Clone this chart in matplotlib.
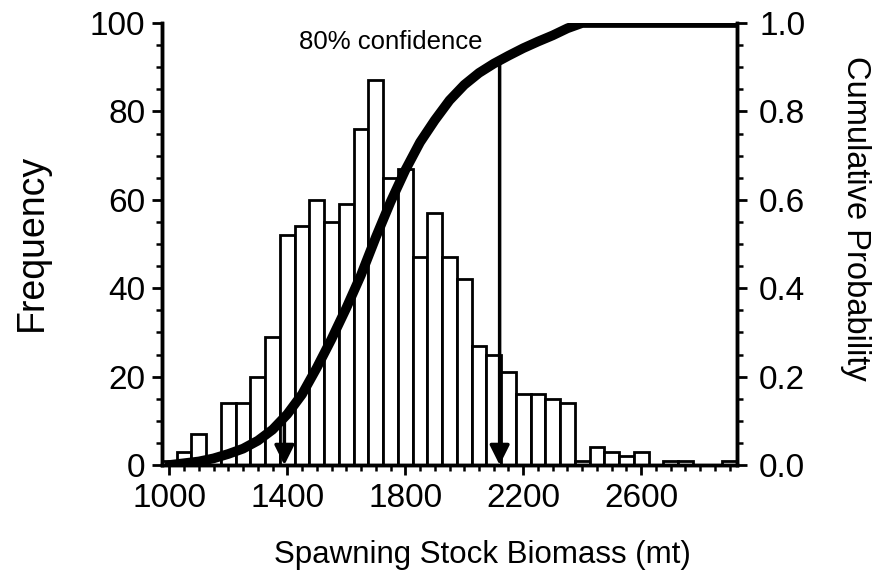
import numpy as np
import matplotlib
matplotlib.use("Agg")
import matplotlib.pyplot as plt
from matplotlib.ticker import MultipleLocator, FixedLocator, FormatStrFormatter

plt.rcParams['font.family'] = ['Liberation Sans', 'DejaVu Sans']

# histogram: bin centres (mt) and frequencies
bin_centres = [1000, 1050, 1100, 1150, 1200, 1250, 1300, 1350, 1400, 1450,
               1500, 1550, 1600, 1650, 1700, 1750, 1800, 1850, 1900, 1950,
               2000, 2050, 2100, 2150, 2200, 2250, 2300, 2350, 2400, 2450,
               2500, 2550, 2600, 2650, 2700, 2750, 2800, 2850, 2900]
counts = [1, 3, 7, 2, 14, 14, 20, 29, 52, 54,
          60, 55, 59, 76, 87, 65, 67, 47, 57, 47,
          42, 27, 25, 21, 16, 16, 15, 14, 1, 4,
          3, 2, 3, 0, 1, 1, 0, 0, 1]

# cumulative probability curve
cum_x = [1000, 1050, 1100, 1150, 1200, 1250, 1300, 1350, 1400, 1450,
         1500, 1550, 1600, 1650, 1700, 1750, 1800, 1850, 1900, 1950,
         2000, 2050, 2100, 2150, 2200, 2250, 2300, 2350, 2400, 2925]
cum_p = [0.0, 0.004, 0.008, 0.015, 0.025, 0.037, 0.055, 0.08, 0.115, 0.16,
         0.22, 0.285, 0.355, 0.43, 0.515, 0.595, 0.667, 0.73, 0.78, 0.825,
         0.86, 0.887, 0.908, 0.926, 0.943, 0.958, 0.972, 0.988, 1.0, 1.0]

# 80% confidence limits
conf_x = [1390, 2120]

x_ticks = [1000, 1400, 1800, 2200, 2600]

fig = plt.figure(figsize=(8.75, 5.83), dpi=100)
ax = fig.add_axes([162/875, 1-465/583, 575/875, 442/583])
ax2 = ax.twinx()

ax.bar(bin_centres, counts, width=50, color='white', edgecolor='black',
       linewidth=2.0, zorder=2)

ax2.plot(cum_x, cum_p, color='black', lw=7, solid_capstyle='round',
         solid_joinstyle='round', zorder=3)

for xc in conf_x:
    ytop = np.interp(xc, cum_x, cum_p)
    ax2.annotate('', xy=(xc, 0.0), xytext=(xc, ytop),
                 arrowprops=dict(arrowstyle='-|>,head_length=0.6,head_width=0.3',
                                 lw=2.5, color='black', mutation_scale=20,
                                 shrinkA=0, shrinkB=0))

ax.text(1750, 95.8, '80% confidence', fontsize=18.5, ha='center', va='center')

ax.set_xlim(975, 2925)
ax.set_ylim(0, 100)
ax2.set_ylim(0, 1.0)

ax.xaxis.set_major_locator(FixedLocator(x_ticks))
ax.xaxis.set_minor_locator(MultipleLocator(50))
ax.yaxis.set_major_locator(MultipleLocator(20))
ax.yaxis.set_minor_locator(MultipleLocator(5))
ax2.yaxis.set_major_locator(MultipleLocator(0.2))
ax2.yaxis.set_minor_locator(MultipleLocator(0.05))
ax2.yaxis.set_major_formatter(FormatStrFormatter('%.1f'))

for a in (ax, ax2):
    a.spines['top'].set_visible(False)
    for s in a.spines.values():
        s.set_linewidth(2.5)
    a.tick_params(which='major', length=7, width=2, labelsize=24, direction='out')
    a.tick_params(which='minor', length=4, width=1.8, direction='out')
ax.tick_params(axis='x', which='major', pad=6)
ax.tick_params(axis='y', which='major', pad=5)
ax2.tick_params(axis='y', which='major', pad=9)

ax.set_zorder(ax2.get_zorder() - 1)
ax2.patch.set_visible(False)

fig.text(32/875, 1-242/583, 'Frequency', rotation=90, ha='center', va='center', fontsize=27)
fig.text(855/875, 1-218/583, 'Cumulative Probability', rotation=270, ha='center', va='center', fontsize=23.5)
fig.text(482/875, 1-555/583, 'Spawning Stock Biomass (mt)', ha='center', va='center', fontsize=22.5)

fig.savefig('out.png', dpi=100)
